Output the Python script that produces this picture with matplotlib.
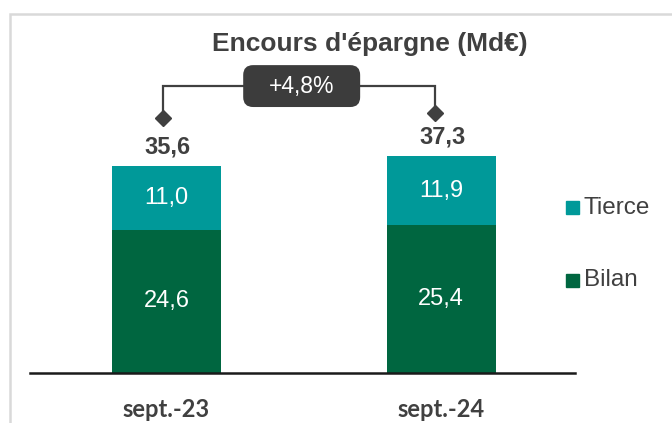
import matplotlib
matplotlib.use("Agg")
import matplotlib.pyplot as plt
from matplotlib.patches import Rectangle, FancyBboxPatch

# data
categories = ["sept.-23", "sept.-24"]
series_names = ["Bilan", "Tierce"]
bilan = [24.6, 25.4]
tierce = [11.0, 11.9]
title = "Encours d'épargne (Md€)"

col_bilan = "#006640"
col_tierce = "#009999"
dark = "#404040"

plt.rcParams['font.family'] = ['Liberation Sans', 'DejaVu Sans']

W, H = 672, 423
fig = plt.figure(figsize=(W / 100, H / 100), dpi=100)

# axes placed in pixel terms: baseline at y=373, x from 30 to 575
ax = fig.add_axes([30 / W, 50 / H, 545 / W, 349.2 / H])
x = list(range(len(categories)))
ax.set_xlim(-0.497, 1.488)
ax.set_ylim(0, 60)

ax.bar(x, bilan, width=0.397, color=col_bilan, zorder=2)
ax.bar(x, tierce, width=0.397, bottom=bilan, color=col_tierce, zorder=2)

totals = [b + t for b, t in zip(bilan, tierce)]
for i in x:
    ax.text(i, bilan[i] / 2, f"{bilan[i]:.1f}".replace(".", ","), ha="center", va="center",
            color="white", fontsize=17)
    ax.text(i, bilan[i] + tierce[i] / 2, f"{tierce[i]:.1f}".replace(".", ","), ha="center",
            va="center", color="white", fontsize=17)
    ax.text(i + 0.005, totals[i] + 3.3, f"{totals[i]:.1f}".replace(".", ","), ha="center",
            va="center", color=dark, fontsize=17, fontweight="bold")

# growth bracket
growth = (totals[1] / totals[0] - 1) * 100
top_y = 49.3
xd = [x[0] - 0.013, x[1] - 0.022]
yd = [totals[0] + 8.2, totals[1] + 7.4]
ax.plot([xd[0], xd[0], xd[1], xd[1]], [yd[0], top_y, top_y, yd[1]], color=dark, lw=1.6,
        zorder=3, solid_joinstyle="miter")
ax.plot(xd, yd, ls="none", marker="D", ms=8, color=dark, zorder=4)

fig.canvas.draw()
p0 = ax.transData.transform((0, 0))
p1 = ax.transData.transform((1, 1))
aspect = (1 / (p1[1] - p0[1])) / (1 / (p1[0] - p0[0]))
bw, bh = 0.426, 7.2
bx = (xd[0] + xd[1]) / 2 - bw / 2 + 0.01
box = FancyBboxPatch((bx, top_y - bh / 2), bw, bh,
                     boxstyle="round,pad=0,rounding_size=0.036", mutation_aspect=aspect,
                     fc="#3c3c3c", ec="none", zorder=5)
ax.add_patch(box)
ax.text(bx + bw / 2, top_y, f"+{growth:.1f}%".replace(".", ","), ha="center", va="center",
        color="white", fontsize=16.5, zorder=6)

# axes styling
for s in ["top", "right", "left"]:
    ax.spines[s].set_visible(False)
ax.spines["bottom"].set_color("#1a1a1a")
ax.spines["bottom"].set_linewidth(1.8)
ax.set_yticks([])
ax.set_xticks(x)
ax.set_xticklabels(categories, fontsize=17, fontweight="bold", color=dark,
                   family=["Lato", "DejaVu Sans"])
ax.tick_params(axis="x", length=0, pad=18)

fig.text(370 / W, 1 - 44 / H, title, ha="center", va="center", fontsize=19,
         fontweight="bold", color=dark)

# legend drawn by hand
leg = [("Tierce", col_tierce, 208), ("Bilan", col_bilan, 280)]
for name, c, yc in leg:
    fig.add_artist(Rectangle((566 / W, 1 - (yc + 6.5) / H), 13 / W, 13 / H,
                             transform=fig.transFigure, color=c))
    fig.text(584 / W, 1 - yc / H, name, ha="left", va="center", fontsize=17.5, color=dark)

# frame
fig.add_artist(Rectangle((10 / W, -0.1), 1.2, 1 - 14 / H + 0.1, transform=fig.transFigure,
                         fill=False, ec="#d9d9d9", lw=1.8))

fig.savefig("out.png", dpi=100)
